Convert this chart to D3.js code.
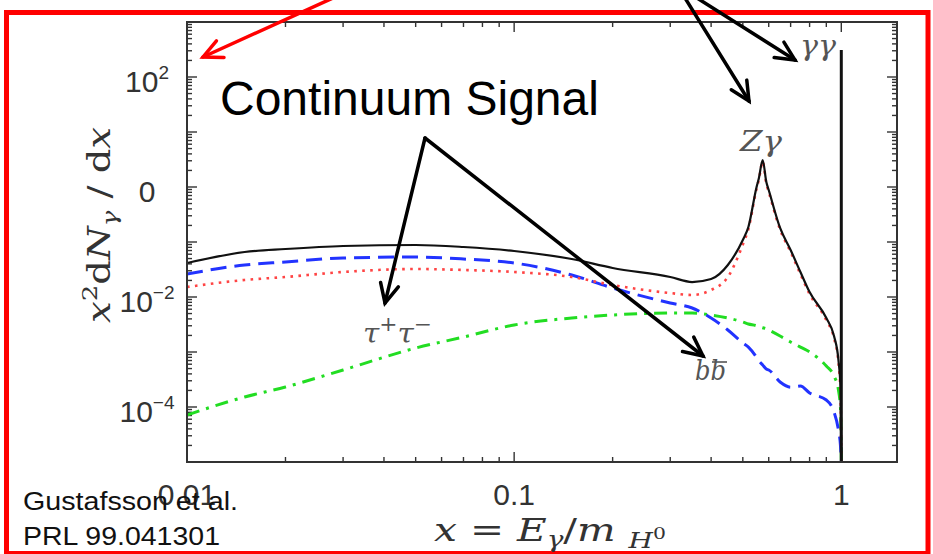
<!DOCTYPE html>
<html><head><meta charset="utf-8">
<script src="https://cdn.jsdelivr.net/npm/d3@7/dist/d3.min.js"></script>
<style>body{margin:0;background:#fff}svg{display:block}</style>
</head><body>
<svg id="chart" width="933" height="554"></svg>
<script>
// ---------- data (x = E_gamma / m_H0, y = x^2 dN/dx) ----------
const xValues = [0.01,0.015,0.02,0.03,0.05,0.07,0.1,0.15,0.2,0.3,0.35,0.4,0.45,0.5,0.52,0.55,0.56,0.575,0.59,0.6,0.65,0.7,0.75,0.8,0.9,0.95,0.98,0.995,1.0];
const totalSolid = [0.0415,0.0658,0.0746,0.0846,0.0882,0.0811,0.0686,0.0491,0.0337,0.0231,0.0187,0.0212,0.0382,0.109,0.187,0.96,1.46,3.1,1.23,0.88,0.18,0.0716,0.0285,0.0123,0.00415,0.00195,0.000716,0.000204,0.00001];
const redDotted = [0.0152,0.0204,0.0231,0.0285,0.0323,0.031,0.0285,0.0231,0.0165,0.0118,0.0109,0.0134,0.0231,0.09,0.172,0.9,1.38,2.9,1.15,0.82,0.168,0.066,0.026,0.0113,0.0038,0.0018,0.00066,0.000165,0.00001];
const blueDashed = [0.0262,0.0382,0.0433,0.0512,0.0533,0.0491,0.0415,0.0251,0.0146,0.00778,0.00631,0.00415,0.00251,0.00146,0.00123,0.00081,0.000686,0.00058,0.00049,0.000471,0.000285,0.000229,0.000241,0.00018,0.000134,0.0000811,0.0000382,0.0000187,0.00001];
const greenDashDot = [7.16e-5,1.52e-4,2.31e-4,4.71e-4,1.18e-3,1.87e-3,3.1e-3,4.15e-3,4.71e-3,5.12e-3,5.12e-3,4.71e-3,4.15e-3,3.51e-3,3.23e-3,3.0e-3,2.88e-3,2.76e-3,2.64e-3,2.51e-3,1.95e-3,1.52e-3,1.23e-3,1e-3,5.56e-4,3.66e-4,2.04e-4,8.8e-5,1e-5];
const gammaGammaLine = {x: 1.0, top: 310, bottom: 1e-5};
const xDomain = [0.01, 1.48];
const yDomain = [1e-5, 1e3];
const xTickLabels = [{v:0.01, t:"0.01"},{v:0.1, t:"0.1"},{v:1, t:"1"}];
const yTickLabels = [{v:1e2, b:"10", s:"2"},{v:1e0, b:"0", s:""},{v:1e-2, b:"10", s:"\u22122"},{v:1e-4, b:"10", s:"\u22124"}];

// ---------- layout ----------
const L = 187, R = 897, T = 22, B = 462;
const svg = d3.select("#chart");
const x = d3.scaleLog().domain(xDomain).range([L, R]);
const y = d3.scaleLog().domain(yDomain).range([B, T]);

// red outer frame
svg.append("rect").attr("x",6.5).attr("y",12.5).attr("width",921.5).attr("height",541)
  .attr("fill","none").attr("stroke","#ff0000").attr("stroke-width",5);

svg.append("clipPath").attr("id","clip").append("rect")
  .attr("x",L).attr("y",T).attr("width",R-L).attr("height",B-T);

const isMajor = v => Math.abs(Math.log10(v) - Math.round(Math.log10(v))) < 1e-6;
const axisColor = "#333";

// ticks
const gT = svg.append("g").attr("stroke",axisColor).attr("stroke-width",1.4);
x.ticks().filter(v => v >= xDomain[0] && v <= xDomain[1]).forEach(v => {
  const len = isMajor(v) ? 10 : 5;
  gT.append("line").attr("x1",x(v)).attr("x2",x(v)).attr("y1",B).attr("y2",B-len);
  gT.append("line").attr("x1",x(v)).attr("x2",x(v)).attr("y1",T).attr("y2",T+len);
});
y.ticks().forEach(v => {
  const len = isMajor(v) ? 10 : 5;
  gT.append("line").attr("x1",L).attr("x2",L+len).attr("y1",y(v)).attr("y2",y(v));
  gT.append("line").attr("x1",R).attr("x2",R-len).attr("y1",y(v)).attr("y2",y(v));
});

// curves
const pts = arr => xValues.map((xv,i) => [xv, arr[i]]);
const line = d3.line().x(d => x(d[0])).y(d => y(d[1])).curve(d3.curveMonotoneX);
const gC = svg.append("g").attr("clip-path","url(#clip)").attr("fill","none");
gC.append("path").attr("d", line(pts(greenDashDot))).attr("stroke","#22dd22").attr("stroke-width",3)
  .attr("stroke-dasharray","13,7,3,7");
gC.append("path").attr("d", line(pts(blueDashed))).attr("stroke","#2233ff").attr("stroke-width",3)
  .attr("stroke-dasharray","16,8");
gC.append("path").attr("d", line(pts(redDotted))).attr("stroke","#ff4444").attr("stroke-width",2.6)
  .attr("stroke-dasharray","2.6,5.4");
gC.append("path").attr("d", line(pts(totalSolid))).attr("stroke","#111").attr("stroke-width",2.2);
gC.append("line").attr("x1",x(gammaGammaLine.x)).attr("x2",x(gammaGammaLine.x))
  .attr("y1",y(gammaGammaLine.top)).attr("y2",y(gammaGammaLine.bottom))
  .attr("stroke","#111").attr("stroke-width",3);

// frame
svg.append("rect").attr("x",L).attr("y",T).attr("width",R-L).attr("height",B-T)
  .attr("fill","none").attr("stroke",axisColor).attr("stroke-width",2);

// tick labels
const tickFont = "'Liberation Sans', Arial, sans-serif";
xTickLabels.forEach(d => {
  svg.append("text").attr("x",x(d.v)).attr("y",505).attr("text-anchor","middle")
    .attr("font-family",tickFont).attr("font-size",30).attr("fill","#333").text(d.t);
});
yTickLabels.forEach(d => {
  const t = svg.append("text").attr("x",147).attr("y",y(d.v)+15).attr("text-anchor","middle")
    .attr("font-family",tickFont).attr("font-size",30).attr("fill","#333");
  t.append("tspan").text(d.b);
  if (d.s) t.append("tspan").attr("dy",-13).attr("font-size",19).text(d.s);
});

// axis titles
const serif = "'DejaVu Serif', 'Liberation Serif', serif";
const yl = svg.append("text").attr("transform","translate(110,225) rotate(-90)")
  .attr("text-anchor","middle").attr("font-family",serif).attr("font-size",31).attr("fill","#333")
  .attr("textLength",196).attr("lengthAdjust","spacingAndGlyphs");
yl.append("tspan").attr("font-style","italic").text("x");
yl.append("tspan").attr("dy",-13).attr("font-size",21).text("2");
yl.append("tspan").attr("dy",13).text("d");
yl.append("tspan").attr("font-style","italic").text("N");
yl.append("tspan").attr("dy",7).attr("font-size",21).attr("font-style","italic").text("\u03b3");
yl.append("tspan").attr("dy",-7).text(" / d");
yl.append("tspan").attr("font-style","italic").text("x");

const xl = svg.append("text").attr("x",550).attr("y",541).attr("text-anchor","middle")
  .attr("font-family",serif).attr("font-size",32).attr("fill","#333")
  .attr("textLength",232).attr("lengthAdjust","spacingAndGlyphs");
xl.append("tspan").attr("font-style","italic").text("x");
xl.append("tspan").text(" = ");
xl.append("tspan").attr("font-style","italic").text("E");
xl.append("tspan").attr("dy",6).attr("font-size",22).attr("font-style","italic").text("\u03b3");
xl.append("tspan").attr("dy",-6).text("/");
xl.append("tspan").attr("font-style","italic").text("m ");
xl.append("tspan").attr("dy",7).attr("font-size",22).attr("font-style","italic").text("H");
xl.append("tspan").attr("dy",-9).attr("font-size",16).text("0");

// annotations
function label(xp, yp, len, parts) {
  const t = svg.append("text").attr("x",xp).attr("y",yp).attr("font-family",serif)
    .attr("font-size",27).attr("fill","#555").attr("font-style","italic")
    .attr("textLength",len).attr("lengthAdjust","spacingAndGlyphs");
  parts.forEach(p => {
    const s = t.append("tspan").text(p.t);
    if (p.dy) s.attr("dy",p.dy);
    if (p.fs) s.attr("font-size",p.fs);
    if (p.up) s.attr("font-style","normal");
  });
  return t;
}
label(740,151,42,[{t:"Z"},{t:"\u03b3"}]);
label(800,55,36,[{t:"\u03b3\u03b3"}]);
label(363,343,69,[{t:"\u03c4"},{t:"+",dy:-12,fs:20,up:1},{t:"\u03c4",dy:12},{t:"\u2212",dy:-12,fs:20,up:1}]);
label(695,380,31,[{t:"b"},{t:"b"}]);
svg.append("line").attr("x1",712).attr("x2",727).attr("y1",362).attr("y2",362).attr("stroke","#555").attr("stroke-width",1.6);

function arrow(x1,y1,x2,y2,color,w) {
  const g = svg.append("g").attr("stroke",color).attr("stroke-width",w).attr("fill","none")
    .attr("stroke-linecap","round");
  g.append("line").attr("x1",x1).attr("y1",y1).attr("x2",x2).attr("y2",y2);
  const a = Math.atan2(y1-y2, x1-x2), hl = 21, ha = 0.45;
  g.append("path").attr("d",`M${x2+hl*Math.cos(a+ha)},${y2+hl*Math.sin(a+ha)}L${x2},${y2}L${x2+hl*Math.cos(a-ha)},${y2+hl*Math.sin(a-ha)}`);
}
arrow(333,-2,203,57,"#ff0000",3.5);
arrow(685,-2,749,101,"#000",3.5);
arrow(697,-2,795,60,"#000",3.5);
arrow(425,138,385,303,"#000",3.5);
arrow(425,138,703,356,"#000",3.5);

svg.append("text").attr("x",220).attr("y",115).attr("font-family","'Liberation Sans', Arial, sans-serif")
  .attr("font-size",48).attr("fill","#000").text("Continuum Signal");
svg.append("text").attr("x",23).attr("y",510).attr("font-family","'Liberation Sans', Arial, sans-serif")
  .attr("font-size",25).attr("fill","#111").attr("textLength",215).attr("lengthAdjust","spacingAndGlyphs").text("Gustafsson et al.");
svg.append("text").attr("x",23).attr("y",545).attr("font-family","'Liberation Sans', Arial, sans-serif")
  .attr("font-size",25).attr("fill","#111").attr("textLength",197).attr("lengthAdjust","spacingAndGlyphs").text("PRL 99.041301");
</script>
</body></html>
